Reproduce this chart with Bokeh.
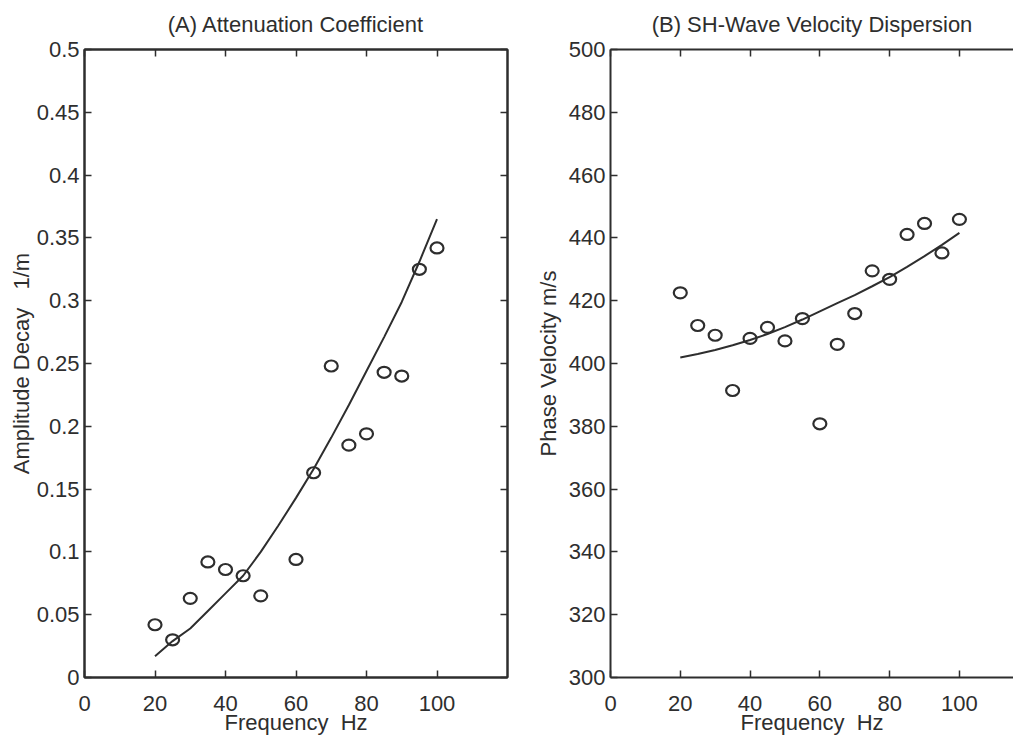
from bokeh.plotting import figure
from bokeh.layouts import row
from bokeh.models import LinearAxis, FixedTicker, Range1d, CustomLabelingPolicy
from bokeh.embed import file_html
from bokeh.resources import INLINE

# ---------------- data ----------------
atten_freq = [20, 25, 30, 35, 40, 45, 50, 60, 65, 70, 75, 80, 85, 90, 95, 100]
atten_meas = [0.042, 0.030, 0.063, 0.092, 0.086, 0.081, 0.065, 0.094, 0.163,
              0.248, 0.185, 0.194, 0.243, 0.240, 0.325, 0.342]
fit_freq = [20, 25, 30, 35, 40, 45, 50, 55, 60, 65, 70, 75, 80, 85, 90, 95, 100]
atten_fit = [0.017, 0.029, 0.039, 0.053, 0.067, 0.081, 0.100, 0.121, 0.143,
             0.166, 0.191, 0.217, 0.244, 0.271, 0.299, 0.331, 0.365]

vel_freq = [20, 25, 30, 35, 40, 45, 50, 55, 60, 65, 70, 75, 80, 85, 90, 95, 100]
vel_meas = [422.5, 412.1, 409.0, 391.4, 408.0, 411.5, 407.2, 414.3, 380.8,
            406.1, 415.9, 429.5, 426.8, 441.1, 444.6, 435.2, 445.9]
vel_fit = [401.9, 403.0, 404.3, 405.8, 407.5, 409.4, 411.6, 414.0, 416.6,
           419.2, 421.8, 424.6, 427.5, 430.8, 434.2, 437.8, 441.6]

x_ticks = [0, 20, 40, 60, 80, 100]
x_tick_labels = ["0", "20", "40", "60", "80", "100"]
a_ticks = [0, 0.05, 0.1, 0.15, 0.2, 0.25, 0.3, 0.35, 0.4, 0.45, 0.5]
a_tick_labels = ["0", "0.05", "0.1", "0.15", "0.2", "0.25", "0.3", "0.35", "0.4", "0.45", "0.5"]
v_ticks = [300, 320, 340, 360, 380, 400, 420, 440, 460, 480, 500]
v_tick_labels = ["300", "320", "340", "360", "380", "400", "420", "440", "460", "480", "500"]

title_a = "(A) Attenuation Coefficient"
title_b = "(B) SH-Wave Velocity Dispersion"
xlabel = "Frequency \u00a0Hz"
ylabel_a = "Amplitude Decay \u00a0\u00a01/m"
ylabel_b = "Phase Velocity m/s"

# ---------------- styling ----------------
FONT = "Liberation Sans"
INK = "#2e2e2e"
TICK_FS = "22px"
XLABEL_FS = "22px"
YLABEL_FS = "22px"
TITLE_FS = "22px"

HIDE_ALL = CustomLabelingPolicy(code="""
for (const i of [...indices]) indices.unset(i)
return indices
""")


def style_axis(ax, labels=None, show=True):
    ax.axis_line_color = INK
    ax.axis_line_width = 2
    ax.major_tick_line_color = INK
    ax.major_tick_line_width = 1.5
    ax.major_tick_in = 7
    ax.major_tick_out = 0
    ax.minor_tick_line_color = None
    ax.major_label_text_font = FONT
    ax.major_label_text_color = INK
    ax.axis_label_text_font = FONT
    ax.axis_label_text_font_style = "normal"
    ax.axis_label_text_color = INK
    if show:
        ax.major_label_text_font_size = TICK_FS
        if labels is not None:
            ax.major_label_overrides = labels
    else:
        ax.major_label_policy = HIDE_ALL
        ax.major_label_text_font_size = "1px"
        ax.major_label_standoff = 0


def make_panel(title, xr, yr, yt, ytl, ylab, fw, mbl, mbr, box_right, ylab_standoff):
    p = figure(x_range=Range1d(*xr), y_range=Range1d(*yr),
               frame_width=fw, frame_height=628,
               min_border_left=mbl, min_border_right=mbr,
               min_border_top=48, min_border_bottom=58,
               output_backend="svg", toolbar_location=None, title=title)
    p.xgrid.visible = False
    p.ygrid.visible = False
    p.background_fill_color = "white"
    p.border_fill_color = "white"
    p.outline_line_color = INK if box_right else None
    p.outline_line_width = 2

    p.title.text_font = FONT
    p.title.text_font_size = TITLE_FS
    p.title.text_font_style = "normal"
    p.title.text_color = INK
    p.title.align = "center"
    p.title.standoff = 18

    xa = p.xaxis[0]
    xa.ticker = FixedTicker(ticks=x_ticks)
    style_axis(xa, dict(zip(x_ticks, x_tick_labels)))
    xa.axis_label = xlabel
    xa.axis_label_text_font_size = XLABEL_FS
    xa.major_label_standoff = 18
    xa.axis_label_standoff = -4

    ya = p.yaxis[0]
    ya.ticker = FixedTicker(ticks=yt)
    style_axis(ya, dict(zip(yt, ytl)))
    ya.axis_label = ylab
    ya.axis_label_text_font_size = YLABEL_FS
    ya.major_label_standoff = 5
    ya.axis_label_standoff = ylab_standoff

    top = LinearAxis(ticker=FixedTicker(ticks=x_ticks))
    style_axis(top, show=False)
    p.add_layout(top, "above")
    if box_right:
        right = LinearAxis(ticker=FixedTicker(ticks=yt))
        style_axis(right, show=False)
        p.add_layout(right, "right")
    return p


pa = make_panel(title_a, (0, 120), (0, 0.5), a_ticks, a_tick_labels, ylabel_a,
                423, 84, 20, True, 0)
pa.line(fit_freq, atten_fit, line_color=INK, line_width=2)
pa.ellipse(atten_freq, atten_meas, width=13, height=11,
           width_units="screen", height_units="screen",
           fill_color=None, line_color=INK, line_width=2.2)

pb = make_panel(title_b, (0, 115.5), (300, 500), v_ticks, v_tick_labels, ylabel_b,
                403, 83, 0, False, 5)
pb.line(fit_freq, vel_fit, line_color=INK, line_width=2)
pb.ellipse(vel_freq, vel_meas, width=13, height=11,
           width_units="screen", height_units="screen",
           fill_color=None, line_color=INK, line_width=2.2)

layout = row(pa, pb)
open("out.html", "w").write(file_html(layout, INLINE))
